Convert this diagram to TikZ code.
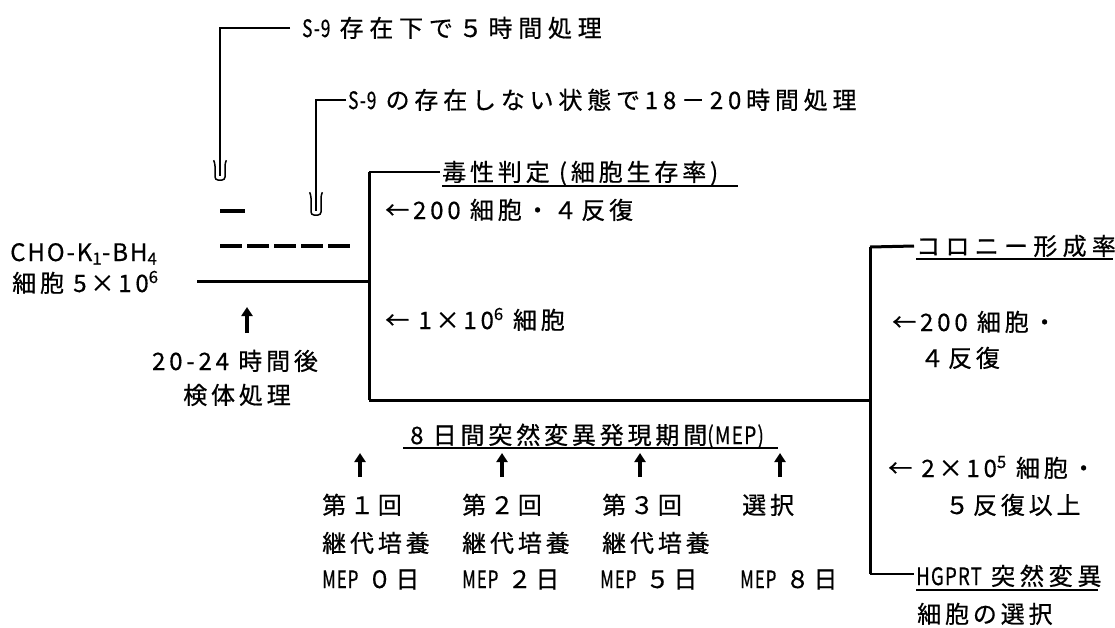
\documentclass[tikz,border=0pt]{standalone}
\usepackage{graphicx}
\usepackage{fontspec}
\setmainfont{Noto Sans CJK JP}[LetterSpace=16, FakeBold=0.6]
\usetikzlibrary{arrows.meta}
\newcommand\narrowtxt[2][0.72]{\scalebox{#1}[1]{\addfontfeatures{LetterSpace=6}#2}}
\newcommand\spc[1]{\addfontfeatures{LetterSpace=#1}}
\begin{document}
\begin{tikzpicture}[x=1pt,y=-1pt,
  lbl/.style={inner sep=0pt, anchor=west, font=\fontsize{24}{28}\selectfont, text height=21pt, text depth=3pt},
  clbl/.style={lbl, anchor=center},
  thinln/.style={line width=1.3pt},
  medln/.style={line width=2.2pt},
  mainln/.style={line width=3pt},
  uline/.style={line width=2pt},
  uparrow/.style={line width=4pt, -{Triangle[width=11pt,length=9pt]}},
  hollowhead/.style={line width=1.5pt, rounded corners=3pt}
]
\useasboundingbox (0,0) rectangle (1115,627);

% ---- top annotations with hollow arrows
\node[lbl] (s9a) at (302,28) {\narrowtxt{S-9} \spc{24}存在下で５時間処理};
\node[lbl] (s9b) at (348,100) {\narrowtxt{S-9} \spc{20}の存在しない状態で18－20時間処理};
\coordinate (h1) at (220,161);
\coordinate (h2) at (316,193);
\draw[thinln] ([xshift=-12pt]s9a.west) -| (h1);
\draw[thinln] ([xshift=-2pt]s9b.west) -| (h2);
\draw[medln] (h1) -- ++(0,15);
\draw[medln] (h2) -- ++(0,18);
\draw[hollowhead] (214,161) -- (215,163) -- (215,180) -- (225,180) -- (225,163) -- (226,161);
\draw[hollowhead] (310,193) -- (311,195) -- (311,215) -- (321,215) -- (321,195) -- (322,193);

% ---- treatment marks
\draw[line width=4pt] (220,211) -- (245,211);
\draw[line width=4pt, dash pattern=on 22pt off 5pt] (220,246) -- (352,246);

% ---- start cells
\node[lbl] (cho1) at (10,252) {\spc{8}CHO-K\textsubscript{1}-BH\textsubscript{4}};
\node[lbl] (cho2) at (12,283) {細胞 5×10\textsuperscript{6}};
\coordinate (src) at (197,281);
\coordinate (vj) at (369,281);
\draw[mainln] (src) -- (vj);

\coordinate (ua) at (247,333);
\draw[uparrow] (ua) -- ++(0,-26);
\node[clbl] (tm1) at (235,361) {20-24 時間後};
\node[clbl] (tm2) at (237,395) {検体処理};

% ---- first branch
\coordinate (vt) at (369,172);
\coordinate (vb) at (369,400);
\node[lbl] (tox) at (442,172) {毒性判定 (細胞生存率)};
\draw[uline] ([yshift=-2pt]tox.south west) -- ([xshift=20pt,yshift=-2pt]tox.south east);
\draw[medln] (vt) -- ([xshift=-2pt]tox.west);
\draw[mainln] (vt) -- (vb);
\node[lbl] (p200a) at (385,210) {←200 細胞・４反復};
\node[lbl] (p1e6) at (385,320) {← 1×10\textsuperscript{6} 細胞};

% ---- MEP
\coordinate (rb) at (870,400);
\draw[mainln] (vb) -- (rb);
\node[lbl] (mep) at (410,435) {8 日間突然変異発現期間\narrowtxt[0.8]{(MEP)}};
\draw[uline] ([xshift=-7pt,yshift=-1pt]mep.south west) -- ([xshift=14pt,yshift=-1pt]mep.south east);

\foreach \x/\n in {360/1, 502/2, 640/3, 780/4}{
  \coordinate (u\n) at (\x,477);
  \draw[uparrow] (u\n) -- ++(0,-24);
}
\node[lbl] (c1a) at (322,505) {第１回};
\node[lbl] (c1b) at (322,543) {継代培養};
\node[lbl] (c1c) at (322,579) {\narrowtxt[0.7]{MEP} ０日};
\node[lbl] (c2a) at (462,505) {第２回};
\node[lbl] (c2b) at (462,543) {継代培養};
\node[lbl] (c2c) at (462,579) {\narrowtxt[0.7]{MEP} ２日};
\node[lbl] (c3a) at (602,505) {第３回};
\node[lbl] (c3b) at (602,543) {継代培養};
\node[lbl] (c3c) at (600,579) {\narrowtxt[0.7]{MEP} ５日};
\node[lbl] (c4a) at (742,505) {選択};
\node[lbl] (c4c) at (740,579) {\narrowtxt[0.7]{MEP} ８日};

% ---- second branch
\coordinate (rt) at (870,247);
\coordinate (rbb) at (870,574);
\draw[mainln] (rt) -- (rbb);
\node[lbl] (col) at (916,246) {\spc{22}コロニー形成率};
\draw[uline] ([yshift=-1pt]col.south west) -- ([xshift=-3pt,yshift=-1pt]col.south east);
\draw[mainln] (rt) -- ([xshift=-2pt]col.west);
\node[lbl] (p200b) at (892,322) {←200 細胞・};
\node[lbl] (p200c) at (920,358) {４反復};
\node[lbl] (p2e5) at (888,468) {← 2×10\textsuperscript{5} 細胞・};
\node[lbl] (p2e5b) at (945,505) {５反復以上};
\node[lbl] (hg) at (916,576) {\narrowtxt[0.78]{HGPRT} \spc{20}突然変異};
\draw[uline] ([yshift=-2pt]hg.south west) -- ([xshift=-4pt,yshift=-2pt]hg.south east);
\draw[thinln] (rbb) -- ([xshift=-2pt]hg.west |- rbb);
\node[lbl] (sel) at (917,614) {細胞の選択};
\end{tikzpicture}
\end{document}
